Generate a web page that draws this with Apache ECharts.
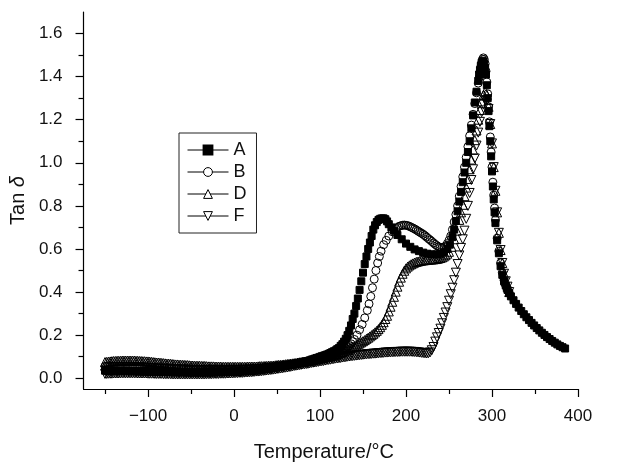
<!DOCTYPE html>
<html><head><meta charset="utf-8">
<script src="https://cdn.jsdelivr.net/npm/echarts@6/dist/echarts.min.js"></script>
<style>html,body{margin:0;padding:0;background:#fff}#c{width:626px;height:467px}</style>
</head><body><div id="c"></div>
<script>
// ---- data (Temperature in °C, tan delta) ----
// shared low-temperature grid, -150 .. 120 °C (rows of 10)
const tempLow = [-150,-148,-146,-144,-142,-140,-138,-136,-134,-132,
  -130,-128,-126,-124,-122,-120,-118,-116,-114,-112,
  -110,-108,-106,-104,-102,-100,-98,-96,-94,-92,
  -90,-88,-86,-84,-82,-80,-78,-76,-74,-72,
  -70,-68,-66,-64,-62,-60,-58,-56,-54,-52,
  -50,-48,-46,-44,-42,-40,-38,-36,-34,-32,
  -30,-28,-26,-24,-22,-20,-18,-16,-14,-12,
  -10,-8,-6,-4,-2,0,2,4,6,8,
  10,12,14,16,18,20,22,24,26,28,
  30,32,34,36,38,40,42,44,46,48,
  50,52,54,56,58,60,62,64,66,68,
  70,72,74,76,78,80,82,84,86,88,
  90,92,94,96,98,100,102,104,106,108,
  110,112,114,116,118,120];
const tanLowA = [.035,.035,.035,.035,.035,.035,.035,.034,.034,.034,
  .034,.034,.034,.034,.033,.033,.033,.033,.033,.032,
  .032,.032,.032,.032,.031,.031,.031,.031,.031,.030,
  .030,.030,.030,.030,.030,.029,.029,.029,.029,.029,
  .028,.028,.028,.028,.028,.028,.028,.028,.027,.027,
  .027,.027,.027,.027,.027,.027,.027,.027,.027,.027,
  .027,.027,.027,.027,.028,.028,.028,.028,.028,.028,
  .028,.029,.029,.029,.029,.030,.030,.030,.031,.031,
  .032,.032,.033,.033,.034,.034,.035,.036,.036,.037,
  .039,.040,.041,.042,.043,.044,.045,.047,.048,.049,
  .051,.052,.053,.055,.056,.057,.059,.061,.062,.064,
  .065,.067,.069,.070,.072,.074,.076,.078,.080,.082,
  .086,.088,.091,.094,.096,.099,.102,.104,.107,.110,
  .113,.117,.121,.125,.129,.135];
const tanLowB = [.055,.055,.056,.056,.056,.056,.056,.056,.056,.056,
  .056,.056,.056,.056,.056,.056,.056,.055,.055,.055,
  .054,.054,.054,.053,.053,.053,.052,.052,.051,.051,
  .050,.050,.049,.049,.049,.048,.048,.047,.047,.047,
  .046,.046,.045,.045,.045,.044,.044,.044,.044,.044,
  .043,.043,.043,.043,.043,.042,.042,.042,.042,.042,
  .041,.041,.041,.041,.041,.041,.041,.041,.041,.041,
  .041,.041,.042,.042,.042,.042,.042,.042,.043,.043,
  .043,.043,.044,.044,.044,.045,.045,.046,.046,.047,
  .048,.048,.049,.050,.051,.052,.052,.053,.054,.055,
  .056,.057,.058,.059,.060,.061,.062,.064,.065,.066,
  .067,.069,.070,.072,.073,.075,.076,.078,.079,.081,
  .082,.084,.086,.088,.090,.092,.094,.096,.098,.101,
  .105,.107,.110,.113,.116,.120];
const tanLowD = [.075,.076,.077,.078,.079,.080,.080,.081,.081,.081,
  .082,.082,.082,.082,.082,.082,.082,.082,.081,.081,
  .080,.080,.079,.079,.078,.078,.077,.076,.075,.074,
  .073,.073,.072,.071,.070,.069,.068,.068,.067,.066,
  .065,.064,.064,.063,.063,.062,.062,.061,.061,.060,
  .059,.059,.058,.058,.058,.058,.057,.057,.057,.056,
  .055,.055,.055,.055,.054,.054,.054,.054,.053,.053,
  .053,.053,.053,.053,.053,.053,.053,.053,.053,.053,
  .053,.053,.053,.054,.054,.054,.054,.054,.054,.055,
  .056,.056,.056,.057,.057,.058,.058,.058,.059,.060,
  .061,.062,.062,.063,.064,.065,.066,.067,.068,.069,
  .070,.071,.073,.074,.075,.076,.077,.079,.080,.081,
  .083,.084,.086,.088,.089,.091,.093,.095,.097,.099,
  .100,.102,.104,.106,.109,.112];
const tanLowF = [.020,.020,.021,.021,.021,.022,.022,.022,.022,.023,
  .023,.023,.023,.023,.023,.023,.023,.023,.023,.022,
  .022,.022,.022,.022,.022,.021,.021,.021,.021,.020,
  .020,.020,.020,.020,.019,.019,.019,.019,.019,.018,
  .018,.018,.018,.018,.018,.018,.018,.018,.018,.018,
  .018,.018,.018,.018,.018,.018,.018,.018,.018,.019,
  .019,.019,.019,.020,.020,.020,.020,.021,.021,.021,
  .021,.022,.022,.022,.023,.023,.024,.024,.025,.025,
  .025,.026,.027,.027,.028,.028,.029,.030,.031,.031,
  .032,.033,.034,.035,.036,.037,.038,.039,.040,.041,
  .043,.044,.045,.046,.048,.049,.050,.052,.053,.055,
  .057,.058,.059,.061,.062,.064,.065,.066,.067,.069,
  .071,.072,.073,.075,.076,.078,.079,.080,.082,.084,
  .085,.086,.088,.089,.091,.092];

// transition / peak / tail region: [temperature, tan delta]
const highA = [[122,.14],[124,.15],[126,.158],[128,.17],[130,.183],[132,.20],[134,.22],[136,.245],[138,.275],[140,.30],
  [142,.335],[144,.37],[146,.41],[148,.45],[150,.49],[152,.53],[154,.565],[156,.60],[158,.63],[160,.66],
  [162,.69],[164,.71],[166,.725],[168,.735],[170,.74],[172,.742],[174,.742],[176,.738],[178,.728],[180,.715],
  [183,.70],[186,.685],[190,.665],[195,.645],[200,.625],[205,.61],[210,.598],[215,.59],[220,.583],[225,.578],
  [230,.575],[235,.575],[240,.578],[244,.585],[248,.60],[251,.62],[254,.655],[256,.69],[258,.73],[260,.775],
  [262,.82],[264,.865],[266,.91],[268,.955],[270,1.0],[272,1.05],[274,1.1],[276,1.16],[278,1.22],[280,1.28],
  [282,1.33],[284,1.38],[285,1.41],[286,1.43],[287,1.45],[288,1.465],[289,1.472],[290,1.47],[291,1.46],[292,1.44],
  [293,1.41],[294,1.36],[295,1.30],[296,1.24],[297,1.17],[298,1.10],[299,1.03],[300,.96],[301,.89],[302,.83],
  [303,.77],[304,.72],[306,.64],[308,.58],[310,.52],[312,.48],[314,.45],[316,.43],[318,.41],[320,.395],
  [322,.38],[325,.362],[328,.345],[331,.328],[334,.312],[337,.297],[340,.283],[343,.27],[346,.257],[349,.245],
  [352,.233],[355,.222],[358,.211],[361,.201],[364,.191],[367,.182],[370,.173],[373,.165],[376,.157],[379,.15],
  [382,.144],[385,.138]];
const highB = [[122,.124],[124,.128],[126,.131],[128,.135],[130,.139],[132,.145],[134,.151],[136,.16],[138,.17],[140,.18],
  [143,.20],[146,.225],[149,.25],[152,.28],[155,.315],[157,.345],[159,.38],[161,.42],[163,.46],[165,.50],
  [167,.535],[169,.565],[171,.59],[174,.62],[177,.64],[180,.66],[184,.68],[188,.695],[190,.70],[192,.705],
  [194,.708],[196,.71],[198,.711],[200,.71],[202,.708],[204,.705],[206,.701],[208,.697],[210,.693],[212,.688],
  [214,.683],[216,.678],[218,.673],[220,.668],[222,.662],[224,.655],[226,.648],[228,.642],[230,.635],[232,.628],
  [234,.621],[236,.615],[238,.61],[240,.607],[242,.606],[244,.608],[246,.614],[248,.625],[250,.64],[252,.66],
  [254,.69],[256,.725],[258,.76],[260,.80],[262,.845],[264,.89],[266,.935],[268,.98],[270,1.025],[272,1.075],
  [274,1.125],[276,1.175],[278,1.225],[280,1.275],[282,1.325],[284,1.37],[285,1.395],[286,1.42],[287,1.445],[288,1.465],
  [289,1.48],[290,1.487],[291,1.48],[292,1.46],[293,1.425],[294,1.375],[295,1.32],[296,1.26],[297,1.19],[298,1.12],
  [299,1.05],[300,.98],[301,.91],[302,.85],[303,.79],[304,.735],[306,.65],[308,.59],[310,.535],[312,.49],
  [314,.455],[316,.43],[318,.41],[320,.395]];
const highD = [[122,.115],[124,.118],[126,.122],[128,.125],[130,.129],[132,.133],[134,.137],[136,.141],[138,.145],[140,.149],
  [142,.153],[144,.158],[146,.162],[148,.167],[150,.172],[152,.177],[154,.183],[156,.188],[158,.194],[160,.20],
  [162,.206],[164,.213],[166,.22],[168,.228],[170,.237],[172,.248],[174,.26],[176,.275],[178,.29],[180,.31],
  [182,.332],[184,.355],[186,.378],[188,.402],[190,.425],[192,.448],[194,.467],[196,.485],[198,.499],[200,.51],
  [202,.518],[204,.524],[206,.529],[208,.533],[210,.537],[212,.54],[214,.542],[216,.544],[218,.546],[220,.547],
  [222,.548],[224,.549],[226,.55],[228,.551],[230,.551],[232,.552],[234,.553],[236,.554],[238,.556],[240,.558],
  [242,.561],[244,.565],[246,.571],[248,.578],[250,.587],[253,.61],[256,.645],[259,.685],[262,.735],[264,.77],
  [266,.805],[268,.845],[270,.885],[272,.925],[274,.97],[276,1.015],[278,1.06],[280,1.105],[282,1.15],[284,1.20],
  [286,1.245],[288,1.285],[290,1.315],[292,1.33],[294,1.315],[296,1.26],[298,1.18],[300,1.09],[302,.98],[304,.87],
  [306,.77],[308,.675],[310,.595],[312,.535],[314,.485],[316,.45],[318,.425],[320,.40]];
const highF = [[122,.093],[124,.094],[126,.096],[128,.097],[130,.098],[132,.100],[134,.101],[136,.102],[138,.103],[140,.104],
  [142,.105],[144,.106],[146,.107],[148,.108],[150,.109],[152,.110],[154,.111],[156,.112],[158,.112],[160,.113],
  [162,.114],[164,.114],[166,.115],[168,.116],[170,.117],[172,.117],[174,.118],[176,.119],[178,.119],[180,.120],
  [182,.120],[184,.121],[186,.121],[188,.122],[190,.122],[192,.122],[194,.123],[196,.123],[198,.123],[200,.123],
  [202,.123],[204,.123],[206,.123],[208,.122],[210,.122],[212,.121],[214,.120],[216,.119],[218,.118],[220,.117],
  [222,.116],[224,.115],[226,.116],[228,.12],[230,.13],[232,.145],[234,.17],[236,.19],[238,.21],[240,.23],
  [242,.255],[244,.28],[246,.305],[248,.33],[250,.36],[252,.39],[254,.42],[256,.455],[258,.49],[260,.53],
  [262,.57],[264,.605],[266,.645],[268,.685],[270,.74],[272,.80],[274,.86],[276,.92],[278,.97],[280,1.02],
  [282,1.08],[284,1.14],[286,1.19],[288,1.235],[290,1.27],[292,1.29],[294,1.29],[296,1.25],[298,1.18],[300,1.09],
  [302,.98],[304,.87],[306,.77],[308,.675],[310,.595],[312,.535],[314,.485],[316,.45],[318,.425],[320,.40]];

const seriesNames = ['A','B','D','F'];
const xMajorTicks = [-100,0,100,200,300,400];
const xMinorTicks = [-150,-50,50,150,250,350];
const yMajorTicks = [0,0.2,0.4,0.6,0.8,1.0,1.2,1.4,1.6];
const yMinorTicks = [0.1,0.3,0.5,0.7,0.9,1.1,1.3,1.5];

// ---- chart ----
const FONT = '"Liberation Sans", Arial, Helvetica, sans-serif';
const HOLLOW = 'rgba(255,255,255,0)';
const chart = echarts.init(document.getElementById('c'), null, {renderer:'canvas'});
const join = (V, high) => tempLow.map((t, i) => [t, V[i]]).concat(high);
function mk(name, data, symbol, size, fill, rot) {
  return {
    name, type:'line', data, symbol, symbolSize: size, symbolRotate: rot || 0,
    showAllSymbol: true, showSymbol: true, clip: false,
    lineStyle: {opacity: 0, width: 1, color: '#000'},
    itemStyle: {color: fill, borderColor: '#000', borderWidth: 1},
    emphasis: {disabled: true}, silent: true
  };
}
const axisLine = {show:true, onZero:false, lineStyle:{color:'#000', width:1.2}};
const xfmt = v => v < 0 ? '\u2212' + Math.abs(v) : String(v);
chart.setOption({
  animation: false,
  backgroundColor: '#fff',
  grid: {left: 83, right: 48, top: 12, bottom: 75, containLabel: false},
  legend: {
    data: seriesNames.map((n, i) => i === 0 ? {name: n} : {name: n, itemStyle: {color: '#fff', borderColor: '#000', borderWidth: 1}}),
    orient: 'vertical', left: 179, top: 133,
    itemWidth: 41, itemHeight: 11, itemGap: 2, padding: [7,10,7,8],
    borderColor: '#222', borderWidth: 1, selectedMode: false,
    textStyle: {fontSize: 18, color: '#111', fontFamily: FONT, lineHeight: 20},
    lineStyle: {color: '#000', width: 1, opacity: 1}
  },
  xAxis: [
    {type:'value', min:-175, max:400, position:'bottom', axisLine,
     axisTick:{show:true, customValues:xMajorTicks, length:8, lineStyle:{color:'#000', width:1.2}},
     axisLabel:{customValues:xMajorTicks, formatter:xfmt, fontSize:17, color:'#111', margin:19, fontFamily:FONT},
     splitLine:{show:false},
     name:'Temperature/\u00b0C', nameLocation:'middle', nameGap:53,
     nameTextStyle:{fontSize:20, color:'#111', fontFamily:FONT, padding:[0,14,0,0]}},
    {type:'value', min:-175, max:400, position:'bottom', axisLine:{show:false, onZero:false},
     axisTick:{show:true, customValues:xMinorTicks, length:5, lineStyle:{color:'#000', width:1.2}},
     axisLabel:{show:false}, splitLine:{show:false}}
  ],
  yAxis: [
    {type:'value', min:-0.05, max:1.7, position:'left', axisLine,
     axisTick:{show:true, customValues:yMajorTicks, length:8, lineStyle:{color:'#000', width:1.2}},
     axisLabel:{customValues:yMajorTicks, formatter: v => v.toFixed(1), fontSize:17, color:'#111', margin:21, fontFamily:FONT},
     splitLine:{show:false},
     name:'{n|Tan }{d|\u03b4}', nameLocation:'middle', nameGap:53, nameRotate:90,
     nameTextStyle:{fontSize:20, color:'#111', fontFamily:FONT,
       rich:{n:{fontSize:20, color:'#111', fontFamily:FONT}, d:{fontSize:20, color:'#111', fontFamily:FONT, fontStyle:'italic'}}}},
    {type:'value', min:-0.05, max:1.7, position:'left', axisLine:{show:false, onZero:false},
     axisTick:{show:true, customValues:yMinorTicks, length:5, lineStyle:{color:'#000', width:1.2}},
     axisLabel:{show:false}, splitLine:{show:false}}
  ],
  series: [
    mk('A', join(tanLowA, highA), 'rect', 7, '#000'),
    mk('B', join(tanLowB, highB), 'circle', 8, HOLLOW),
    mk('D', join(tanLowD, highD), 'triangle', 9, HOLLOW),
    mk('F', join(tanLowF, highF), 'triangle', 9, HOLLOW, 180)
  ]
});
</script></body></html>
